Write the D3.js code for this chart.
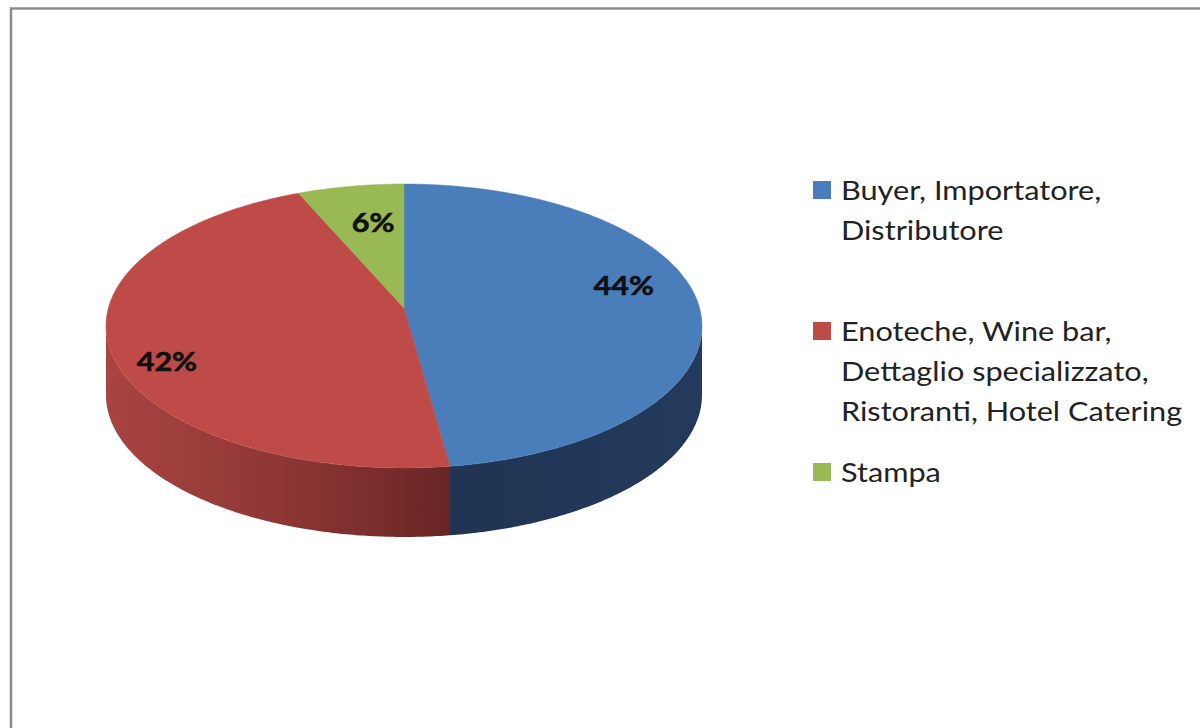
<!DOCTYPE html>
<html><head><meta charset="utf-8">
<script src="https://cdn.jsdelivr.net/npm/d3@7"></script>
<style>html,body{margin:0;padding:0;background:#fff;}svg{display:block;}</style>
</head><body>
<script>
const categories = ["Buyer, Importatore, Distributore", "Enoteche, Wine bar, Dettaglio specializzato, Ristoranti, Hotel Catering", "Stampa"];
const legendLines = [["Buyer, Importatore,", "Distributore"], ["Enoteche, Wine bar,", "Dettaglio specializzato,", "Ristoranti, Hotel Catering"], ["Stampa"]];
const values = [44, 42, 6];
const labels = ["44%", "42%", "6%"];

const topColors = ["#4a7ebb", "#be4b48", "#98b954"];
const W = 1200, H = 728;
// perspective projection of the pie disc
const cx = 404, cy = 308, A = 295.6, B = 139.7, k = 0.1267, depth = 69;

const svg = d3.select("body").append("svg").attr("width", W).attr("height", H);
svg.append("rect").attr("x", 11).attr("y", 8.5).attr("width", 1220).attr("height", 760)
  .attr("fill", "#fff").attr("stroke", "#8c8c8c").attr("stroke-width", 2.5);

const defs = svg.append("defs");
const gRed = defs.append("linearGradient").attr("id", "sideRed").attr("gradientUnits", "userSpaceOnUse")
  .attr("x1", cx - A).attr("x2", cx + 50).attr("y1", 0).attr("y2", 0);
gRed.append("stop").attr("offset", "0").attr("stop-color", "#a84441");
gRed.append("stop").attr("offset", "0.5").attr("stop-color", "#8e3735");
gRed.append("stop").attr("offset", "1").attr("stop-color", "#682524");
const gBlue = defs.append("linearGradient").attr("id", "sideBlue").attr("gradientUnits", "userSpaceOnUse")
  .attr("x1", cx).attr("x2", cx + A).attr("y1", 0).attr("y2", 0);
gBlue.append("stop").attr("offset", "0").attr("stop-color", "#1f3350");
gBlue.append("stop").attr("offset", "1").attr("stop-color", "#233a5c");
const sideFills = ["url(#sideBlue)", "url(#sideRed)", "#6f8a3c"];

const pie = d3.pie().sort(null).value(d => d).startAngle(0).endAngle(2 * Math.PI);
const arcs = pie(values);

function proj(a, r) {
  const u = r * Math.sin(a), v = r * Math.cos(a), w = 1 + k * v;
  return [cx + A * u / w, cy - B * v / w];
}
function arcPts(a0, a1, dy) {
  const n = Math.max(2, Math.ceil(Math.abs(a1 - a0) / 0.01));
  const pts = [];
  for (let i = 0; i <= n; i++) { const p = proj(a0 + (a1 - a0) * i / n, 1); pts.push([p[0], p[1] + dy]); }
  return pts;
}
const line = d3.line();
const edgeR = Math.acos(-k), edgeL = 2 * Math.PI - Math.acos(-k);

// sides
arcs.forEach((d, i) => {
  const s = Math.max(d.startAngle, edgeR), e = Math.min(d.endAngle, edgeL);
  if (e <= s) return;
  const pts = arcPts(s, e, 0).concat(arcPts(e, s, depth));
  svg.append("path").attr("d", line(pts) + "Z").attr("fill", sideFills[i]);
});
// tops
arcs.forEach((d, i) => {
  const pts = [[cx, cy]].concat(arcPts(d.startAngle, d.endAngle, 0));
  svg.append("path").attr("d", line(pts) + "Z").attr("fill", topColors[i])
    .attr("stroke", topColors[i]).attr("stroke-width", 0.5);
});

// labels
const labelR = [0.75, 0.81, 0.55];
const labelDy = [-16, 21, -16];
arcs.forEach((d, i) => {
  const m = (d.startAngle + d.endAngle) / 2;
  const p = proj(m, labelR[i]);
  svg.append("text")
    .attr("transform", `translate(${p[0]},${p[1] + labelDy[i]}) scale(1.13,1)`)
    .attr("text-anchor", "middle").attr("dominant-baseline", "central")
    .attr("font-family", "Lato, 'Open Sans', sans-serif").attr("font-weight", "bold")
    .attr("font-size", 27).attr("fill", "#111")
    .attr("stroke", "#111").attr("stroke-width", 0.6).text(labels[i]);
});

// legend
const legTop = [190, 331, 472];
const lg = svg.append("g").attr("font-family", "Lato, 'Open Sans', sans-serif").attr("font-size", 26).attr("fill", "#222");
legendLines.forEach((lines, i) => {
  lg.append("rect").attr("x", 813).attr("y", legTop[i] - 9).attr("width", 18).attr("height", 18).attr("fill", topColors[i]);
  lines.forEach((t, j) => {
    lg.append("text").attr("transform", `translate(841,${legTop[i] + j * 40}) scale(1.18,1)`)
      .attr("dominant-baseline", "central").text(t);
  });
});
</script>
</body></html>
